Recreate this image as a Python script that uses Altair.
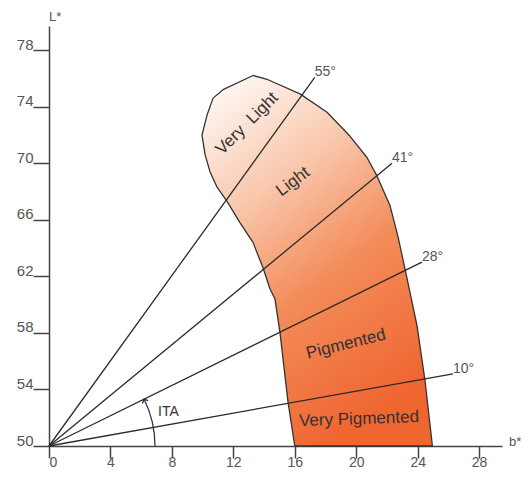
import altair as alt
import pandas as pd

# ---- data ----
shape_b = [16.0, 15.56, 15.04, 14.71, 14.39, 13.93, 13.28, 12.43, 11.59, 10.94, 10.48,
           10.16, 9.96, 10.29, 10.68, 11.33, 13.28, 14.26, 16.34, 18.10, 19.60, 20.70,
           21.35, 22.20, 22.72, 23.18, 23.96, 24.48, 24.96, 16.0]
shape_L = [50.0, 53.1, 58.0, 60.4, 61.1, 62.6, 64.4, 65.8, 67.3, 68.3, 69.4,
           70.6, 72.0, 73.4, 74.6, 75.2, 76.2, 75.9, 74.9, 73.6, 71.9, 70.4,
           69.1, 67.0, 64.8, 62.5, 58.5, 54.6, 50.0, 50.0]

ray_labels = ["55°", "41°", "28°", "10°"]
ray_end_b = [17.3, 22.33, 24.28, 26.3]
ray_end_L = [76.07, 69.99, 63.0, 55.1]

region_names = ["Very\u00a0 Light", "Light", "Pigmented", "Very Pigmented"]
region_b = [12.89, 15.89, 19.34, 20.18]
region_L = [72.8, 68.7, 57.2, 51.9]
region_angle = [315, 323, 346, 358]

x_ticks = [0, 4, 8, 12, 16, 20, 24, 28]
y_ticks = [50, 54, 58, 62, 66, 70, 74, 78]

X_MAX = 29.49
Y_MAX = 79.7
FONT = "Liberation Sans"

xs = alt.Scale(domain=[0, X_MAX], nice=False, zero=False)
ys = alt.Scale(domain=[50, Y_MAX], nice=False, zero=False)

shape_df = pd.DataFrame({"b": shape_b, "L": shape_L, "i": range(len(shape_b))})
rays_rows = []
for lab, eb, el in zip(ray_labels, ray_end_b, ray_end_L):
    rays_rows.append({"ray": lab, "b": 0.0, "L": 50.0, "o": 0})
    rays_rows.append({"ray": lab, "b": eb, "L": el, "o": 1})
rays_df = pd.DataFrame(rays_rows)
ray_lab_df = pd.DataFrame({"label": ray_labels, "b": ray_end_b, "L": ray_end_L})
region_df = pd.DataFrame({"name": region_names, "b": region_b, "L": region_L, "ang": region_angle})

grad = alt.Gradient(
    gradient="linear",
    x1=0.1, y1=0.0, x2=0.55, y2=1.0,
    stops=[
        alt.GradientStop(color="#fffaf7", offset=0.0),
        alt.GradientStop(color="#f9c7ac", offset=0.32),
        alt.GradientStop(color="#f38c5a", offset=0.62),
        alt.GradientStop(color="#ef6630", offset=1.0),
    ],
)

x_axis = alt.Axis(values=x_ticks, tickSize=12, labelPadding=8, labelBaseline="alphabetic",
                  labelFontSize=14, title=None, grid=False)
y_axis = alt.Axis(values=y_ticks, tickSize=16, labelPadding=0, labelBaseline="alphabetic",
                  labelOffset=-1, title=None, grid=False)

shape = alt.Chart(shape_df).mark_line(
    fill=grad, stroke="#333333", strokeWidth=1.3, strokeJoin="round"
).encode(
    x=alt.X("b:Q", scale=xs, axis=x_axis),
    y=alt.Y("L:Q", scale=ys, axis=y_axis),
    order=alt.Order("i:Q"),
)

rays = alt.Chart(rays_df).mark_line(color="#2b2b2b", strokeWidth=1.3).encode(
    x=alt.X("b:Q", scale=xs),
    y=alt.Y("L:Q", scale=ys),
    detail="ray:N",
    order=alt.Order("o:Q"),
)

ray_text = alt.Chart(ray_lab_df).mark_text(
    align="left", baseline="alphabetic", dx=0, dy=-1, font=FONT, fontSize=14, color="#555555"
).encode(x=alt.X("b:Q", scale=xs), y=alt.Y("L:Q", scale=ys), text="label:N")

region_text = alt.Chart(region_df).mark_text(
    align="center", baseline="middle", font=FONT, fontSize=17, color="#333333"
).encode(x=alt.X("b:Q", scale=xs), y=alt.Y("L:Q", scale=ys), text="name:N",
         angle=alt.Angle("ang:Q", scale=None))

one = pd.DataFrame({"b": [0.0], "L": [50.0]})

ita_arc = alt.Chart(one).mark_arc(
    filled=False, color="#333333", strokeWidth=1.3, radius=106, radius2=106,
    theta=1.114, theta2=1.5708
).encode(x=alt.X("b:Q", scale=xs), y=alt.Y("L:Q", scale=ys))

arrow_df = pd.DataFrame({"b": [6.18], "L": [53.31]})
ita_arrow = alt.Chart(arrow_df).mark_point(
    shape="M-1,1L0,0L1,1", filled=False, color="#333333", strokeWidth=1.3, size=40,
    angle=334, opacity=1
).encode(x=alt.X("b:Q", scale=xs), y=alt.Y("L:Q", scale=ys))

ita_df = pd.DataFrame({"t": ["ITA"], "b": [7.1], "L": [52.1]})
ita_text = alt.Chart(ita_df).mark_text(
    align="left", baseline="alphabetic", font=FONT, fontSize=14, color="#333333"
).encode(x=alt.X("b:Q", scale=xs), y=alt.Y("L:Q", scale=ys), text="t:N")

ax_df = pd.DataFrame({"t": ["L*", "b*"], "b": [0.0, X_MAX], "L": [Y_MAX, 50.0]})
lstar = alt.Chart(ax_df.iloc[[0]]).mark_text(
    align="left", baseline="alphabetic", dx=0, dy=-5, font=FONT, fontSize=13, color="#555555"
).encode(x=alt.X("b:Q", scale=xs), y=alt.Y("L:Q", scale=ys), text="t:N")
bstar = alt.Chart(ax_df.iloc[[1]]).mark_text(
    align="left", baseline="alphabetic", dx=7, dy=0, font=FONT, fontSize=13, color="#555555"
).encode(x=alt.X("b:Q", scale=xs), y=alt.Y("L:Q", scale=ys), text="t:N")

chart = alt.layer(
    shape, rays, ray_text, region_text, ita_arc, ita_arrow, ita_text, lstar, bstar
).properties(
    width=453, height=420,
    autosize=alt.AutoSizeParams(type="none"),
    padding={"left": 41, "top": 18, "right": 19, "bottom": 24},
    background="white",
).configure_view(stroke=None).configure_axis(
    domainColor="#444444", domainWidth=1.5, tickColor="#444444", tickWidth=1.5,
    labelColor="#555555", labelFont=FONT, labelFontSize=15,
)

chart.save("out.html", embed_options={"renderer": "svg", "actions": False})
